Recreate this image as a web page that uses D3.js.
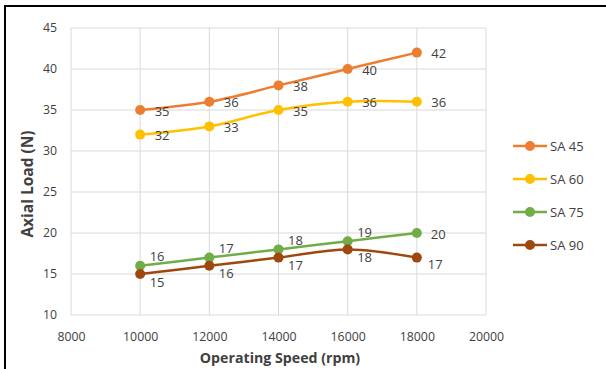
<!DOCTYPE html>
<html>
<head>
<meta charset="utf-8">
<script src="https://cdn.jsdelivr.net/npm/d3@7/dist/d3.min.js"></script>
<style>
  html, body { margin: 0; padding: 0; background: #fff; }
  svg { display: block; }
  text { font-family: "Open Sans", "Noto Sans", sans-serif; fill: #404040; }
</style>
</head>
<body>
<svg id="chart" width="606" height="369"></svg>
<script>
// Operating speed (rpm) on x, axial load (N) on y, one series per SA angle
const speeds = [10000, 12000, 14000, 16000, 18000];
const sa45 = [35, 36, 38, 40, 42];
const sa60 = [32, 33, 35, 36, 36];
const sa75 = [16, 17, 18, 19, 20];
const sa90 = [15, 16, 17, 18, 17];
const seriesNames = ["SA 45", "SA 60", "SA 75", "SA 90"];
const xTicks = [8000, 10000, 12000, 14000, 16000, 18000, 20000];
const yTicks = [10, 15, 20, 25, 30, 35, 40, 45];

const seriesValues = [sa45, sa60, sa75, sa90];
const colors = ["#ED7D31", "#FFC000", "#70AD47", "#9E480E"];
const last = speeds.length - 1;
// placement of each value label relative to its point: [dx, dy]
const labelOffset = [
  () => [14.5, 1],
  () => [14.5, 1],
  (i) => (i === last ? [14, 1] : [9.5, -9]),
  (i) => (i === last ? [11, 7] : [9.5, 8])
];

const svg = d3.select("#chart");
svg.append("rect").attr("width", 606).attr("height", 369).attr("fill", "#fff");
// chart frame
svg.append("rect")
  .attr("x", 5).attr("y", 6).attr("width", 620).attr("height", 380)
  .attr("fill", "#fff").attr("stroke", "#000").attr("stroke-width", 2);

const x = d3.scaleLinear().domain([8000, 20000]).range([71, 486]);
const y = d3.scaleLinear().domain([10, 45]).range([315, 28]);

const g = svg.append("g");

// gridlines
g.selectAll("line.vgrid").data(xTicks).join("line")
  .attr("x1", d => x(d)).attr("x2", d => x(d))
  .attr("y1", y(45)).attr("y2", y(10))
  .attr("stroke", "#d9d9d9").attr("stroke-width", 1);
g.selectAll("line.hgrid").data(yTicks).join("line")
  .attr("x1", x(8000)).attr("x2", x(20000))
  .attr("y1", d => y(d)).attr("y2", d => y(d))
  .attr("stroke", "#d9d9d9").attr("stroke-width", 1);

// axes (labels only, lines come from the grid)
const xAxis = g.append("g").attr("transform", `translate(0,${y(10)})`)
  .call(d3.axisBottom(x).tickValues(xTicks).tickSize(0).tickPadding(17).tickFormat(d3.format("d")));
const yAxis = g.append("g").attr("transform", `translate(${x(8000)},0)`)
  .call(d3.axisLeft(y).tickValues(yTicks).tickSize(0).tickPadding(14));
[xAxis, yAxis].forEach(a => {
  a.select(".domain").remove();
  a.selectAll("text").attr("font-family", "Open Sans").attr("font-size", 12.3).attr("fill", "#404040");
});

// axis titles
svg.append("text")
  .attr("x", 280).attr("y", 363)
  .attr("text-anchor", "middle").attr("font-weight", "bold").attr("font-size", 14.2)
  .attr("fill", "#000").text("Operating Speed (rpm)");
svg.append("text")
  .attr("transform", "translate(33,184) rotate(-90)")
  .attr("text-anchor", "middle").attr("font-weight", "bold").attr("font-size", 15.5)
  .attr("fill", "#000").text("Axial Load (N)");

// series lines, markers and value labels
const line = d3.line()
  .x((d, i) => x(speeds[i]))
  .y(d => y(d))
  .curve(d3.curveCatmullRom.alpha(0.5));

seriesValues.forEach((vals, s) => {
  const sg = g.append("g");
  sg.append("path").attr("d", line(vals))
    .attr("fill", "none").attr("stroke", colors[s]).attr("stroke-width", 2.5)
    .attr("stroke-linecap", "round");
  sg.selectAll("circle").data(vals).join("circle")
    .attr("cx", (d, i) => x(speeds[i])).attr("cy", d => y(d))
    .attr("r", 5).attr("fill", colors[s]);
  sg.selectAll("text").data(vals).join("text")
    .attr("x", (d, i) => x(speeds[i]) + labelOffset[s](i)[0])
    .attr("y", (d, i) => y(d) + labelOffset[s](i)[1])
    .attr("dy", "0.35em")
    .attr("font-size", 13).attr("fill", "#404040")
    .text(d => d);
});

// legend
const legend = svg.append("g").attr("transform", "translate(513,146)");
seriesNames.forEach((name, s) => {
  const lg = legend.append("g").attr("transform", `translate(0,${s * 33})`);
  lg.append("line").attr("x1", 0).attr("x2", 34).attr("y1", 0).attr("y2", 0)
    .attr("stroke", colors[s]).attr("stroke-width", 2.5);
  lg.append("circle").attr("cx", 17).attr("cy", 0).attr("r", 5).attr("fill", colors[s]);
  lg.append("text").attr("x", 37).attr("y", 0).attr("dy", "0.35em")
    .attr("font-size", 13).attr("fill", "#404040").text(name);
});
</script>
</body>
</html>
